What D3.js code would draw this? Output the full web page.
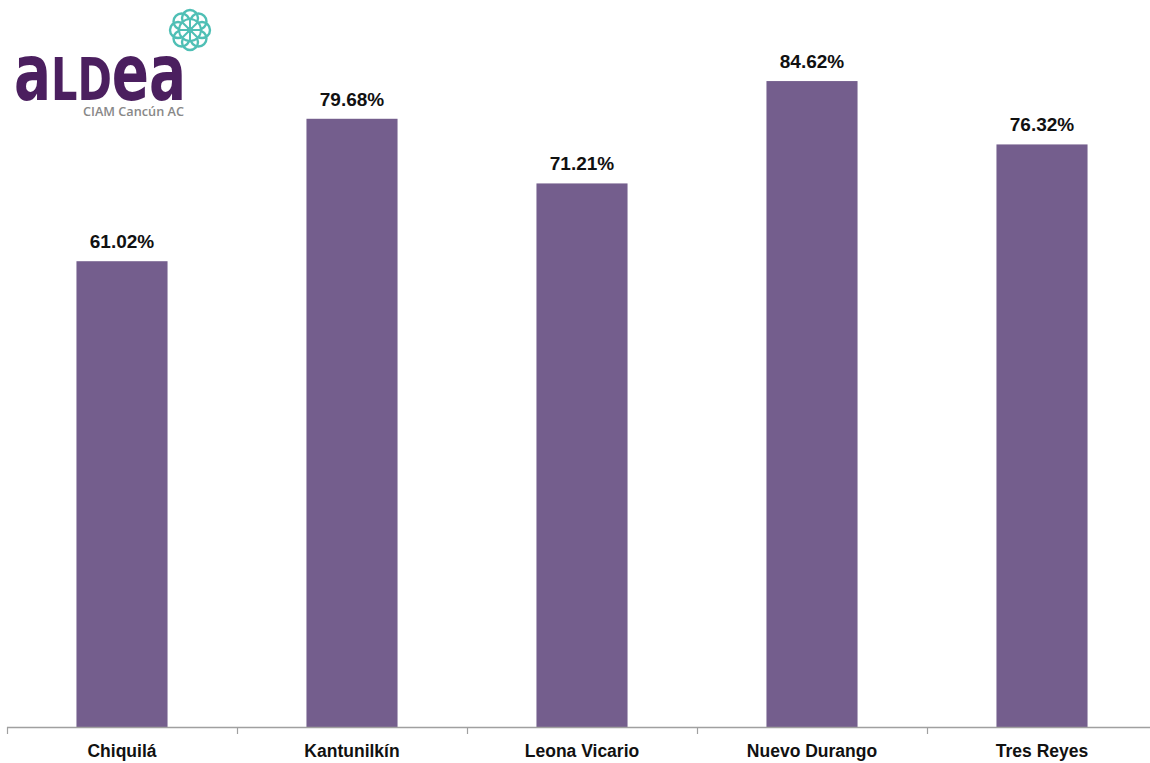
<!DOCTYPE html>
<html>
<head>
<meta charset="utf-8">
<script src="https://cdn.jsdelivr.net/npm/d3@7"></script>
<style>
  html, body { margin: 0; padding: 0; background: #ffffff; }
  svg { display: block; }
</style>
</head>
<body>
<svg id="chart" width="1150" height="763"></svg>
<script>
// Participation by community (percent)
const categories = ["Chiquilá", "Kantunilkín", "Leona Vicario", "Nuevo Durango", "Tres Reyes"];
const values = [61.02, 79.68, 71.21, 84.62, 76.32];
const valueLabels = ["61.02%", "79.68%", "71.21%", "84.62%", "76.32%"];

const svg = d3.select("#chart");
const W = 1150, H = 763;
const margin = { left: 7, right: -7, bottom: 36 };
const baseY = H - margin.bottom;

const x = d3.scaleBand()
  .domain(categories)
  .range([margin.left, W - margin.right])
  .paddingInner(0.604)
  .paddingOuter(0.302);

const y = d3.scaleLinear().domain([0, 90]).range([baseY, 40]);

const barColor = "#745e8d";
const font = "'Liberation Sans', Arial, sans-serif";

// bars
svg.append("g").selectAll("rect")
  .data(categories)
  .join("rect")
  .attr("x", d => x(d))
  .attr("width", x.bandwidth())
  .attr("y", (d, i) => y(values[i]))
  .attr("height", (d, i) => y(0) - y(values[i]))
  .attr("fill", barColor);

// value labels
svg.append("g").selectAll("text")
  .data(categories)
  .join("text")
  .attr("x", d => x(d) + x.bandwidth() / 2)
  .attr("y", (d, i) => y(values[i]) - 13)
  .attr("text-anchor", "middle")
  .attr("font-family", font)
  .attr("font-weight", "bold")
  .attr("font-size", 19)
  .attr("fill", "#111")
  .text((d, i) => valueLabels[i]);

// category axis with boundary ticks between bands
const axisColor = "#a0a0a0";
const axisG = svg.append("g");
axisG.append("line")
  .attr("x1", margin.left).attr("x2", W)
  .attr("y1", baseY + 0.5).attr("y2", baseY + 0.5)
  .attr("stroke", axisColor).attr("stroke-width", 1.5);

const step = x.step();
const boundaries = d3.range(categories.length + 1).map(i => margin.left + i * step);
axisG.selectAll("line.tick")
  .data(boundaries)
  .join("line")
  .attr("class", "tick")
  .attr("x1", d => d + 0.5).attr("x2", d => d + 0.5)
  .attr("y1", baseY).attr("y2", baseY + 7)
  .attr("stroke", axisColor).attr("stroke-width", 1.2);

axisG.selectAll("text")
  .data(categories)
  .join("text")
  .attr("x", d => x(d) + x.bandwidth() / 2)
  .attr("y", baseY + 30)
  .attr("text-anchor", "middle")
  .attr("font-family", font)
  .attr("font-weight", "bold")
  .attr("font-size", 17.5)
  .attr("fill", "#111")
  .text(d => d);

// organisation logo, top left
const logo = svg.append("g");
const wordmark = logo.append("text")
  .attr("x", 14).attr("y", 100)
  .attr("font-family", "'DejaVu Sans', sans-serif")
  .attr("font-weight", "bold")
  .attr("fill", "#4b1f5f")
  .attr("textLength", 172)
  .attr("lengthAdjust", "spacingAndGlyphs");
[["a", 78], ["L", 59], ["D", 59], ["e", 78], ["a", 78]].forEach(([ch, fs]) => {
  wordmark.append("tspan").attr("font-size", fs).text(ch);
});

logo.append("text")
  .attr("x", 83).attr("y", 116)
  .attr("font-family", "'Open Sans', sans-serif")
  .attr("font-weight", 600)
  .attr("font-size", 12.6)
  .attr("fill", "#888888")
  .attr("textLength", 101)
  .attr("lengthAdjust", "spacingAndGlyphs")
  .text("CIAM Cancún AC");

// mandala emblem
const teal = "#4fbfb5";
const emblem = logo.append("g").attr("transform", "translate(190,30)");
d3.range(8).forEach(i => {
  const a = i * Math.PI / 4;
  emblem.append("circle")
    .attr("cx", 12 * Math.cos(a)).attr("cy", 12 * Math.sin(a))
    .attr("r", 8)
    .attr("fill", "none").attr("stroke", teal).attr("stroke-width", 2.4);
});
emblem.append("circle").attr("r", 11).attr("fill", "#ffffff");
d3.range(8).forEach(i => {
  const a = i * Math.PI / 4;
  emblem.append("line")
    .attr("x1", 0).attr("y1", 0)
    .attr("x2", 11 * Math.cos(a)).attr("y2", 11 * Math.sin(a))
    .attr("stroke", teal).attr("stroke-width", 2);
});
emblem.append("circle").attr("r", 11)
  .attr("fill", "none").attr("stroke", teal).attr("stroke-width", 2);
emblem.append("circle").attr("r", 3).attr("fill", teal);
</script>
</body>
</html>
